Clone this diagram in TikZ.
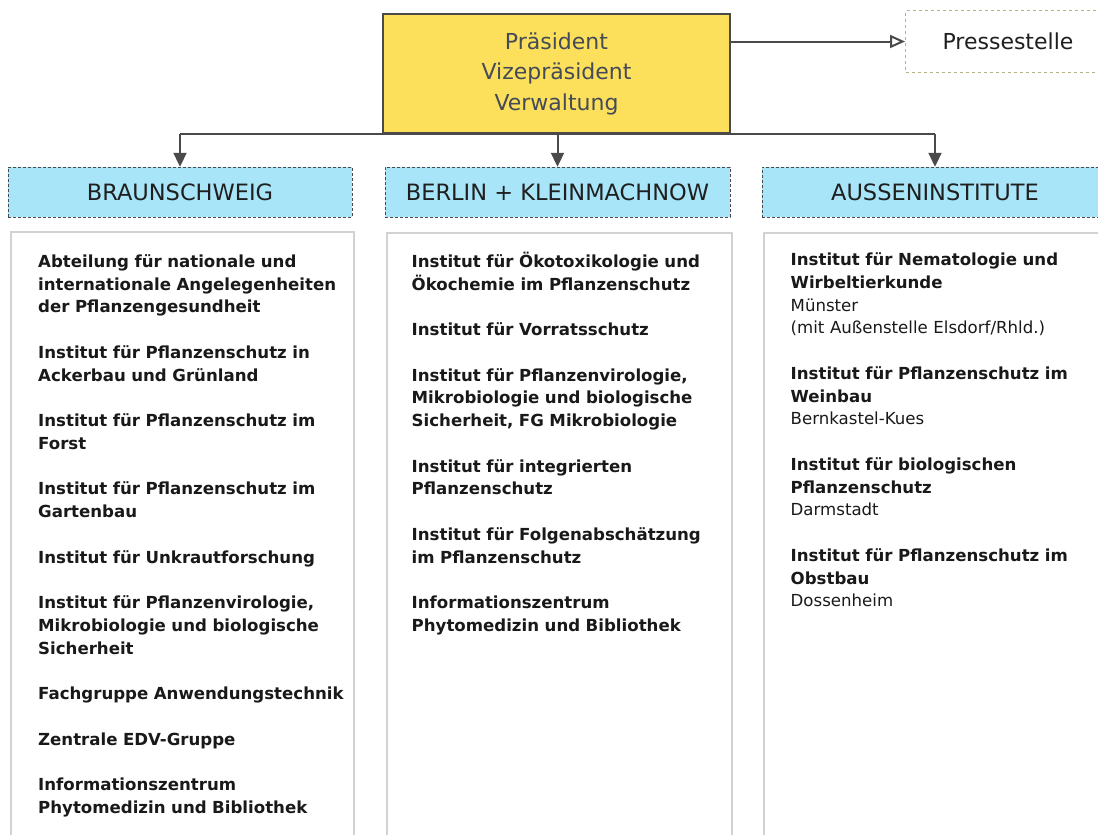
\documentclass[tikz,border=0pt]{standalone}
\usepackage{fontspec}
\setmainfont{DejaVu Sans}
\usepackage{tikz}
\usetikzlibrary{positioning,arrows.meta}
\definecolor{praesgelb}{HTML}{FCE05B}
\definecolor{kopfblau}{HTML}{A9E5F8}
\definecolor{linie}{HTML}{4A4A4A}
\definecolor{schrift}{HTML}{454A58}
\definecolor{rahmen}{HTML}{D2D2D2}
\definecolor{presserand}{HTML}{B5B283}
\newcommand{\leer}{\\[22.75pt]}
\tikzset{
        >={Triangle[length=14pt,width=13pt]}, % filled heads for the down arrows
        verbindung/.style={line width=2pt, draw=linie}, % dark connectors
        kopf/.style={fill=kopfblau, draw=linie, densely dashed, thin, minimum height=50pt,
                font=\fontsize{22.5}{27}\selectfont, text=black!88}, % blue column headers
        spalte/.style={draw=rahmen, line width=1.5pt, fill=white, anchor=north west,
                minimum height=620pt}, % white column boxes
        eintrag/.style={anchor=base west, inner sep=0pt, text width=318pt, align=left,
                font=\fontsize{16.6}{22.75}\selectfont\bfseries, text=black!90}, % institute lists
}

\begin{document}
\begin{tikzpicture}[x=1pt,y=-1pt]
\useasboundingbox (0,0) rectangle (1098,835);

% Leitung und Pressestelle
\node[fill=praesgelb, draw=linie, line width=1.5pt, minimum width=347pt, minimum height=119pt,
      align=center, text=schrift, font=\fontsize{22}{30.5}\selectfont]
      (praes) at (556.5,73.5) {Präsident\\Vizepräsident\\Verwaltung};
\node[draw=presserand, dashed, line width=1pt, fill=white, anchor=north west, minimum width=205pt,
      minimum height=62pt, font=\fontsize{22}{26}\selectfont, text=black!88]
      (presse) at (905,10) {Pressestelle};
\draw[verbindung, -{Triangle[open,length=15pt,width=13pt]}] (praes.east |- presse.west) -- (presse.west);

% Spalten
\node[spalte, minimum width=343pt] (spalteBS) at (10,231) {};
\node[spalte, minimum width=345pt] (spalteBK) at (386,232) {};
\node[spalte, minimum width=346pt] (spalteAI) at (763,232) {};

\node[kopf, minimum width=344pt] (kopfBS) at (180,192) {BRAUNSCHWEIG};
\node[kopf, minimum width=345pt] (kopfBK) at (557.5,192) {BERLIN + KLEINMACHNOW};
\node[kopf, minimum width=346pt] (kopfAI) at (935,192) {AUSSENINSTITUTE};

% Verbindungen
\draw[verbindung] (kopfBS.north |- praes.south) -- (kopfAI.north |- praes.south);
\foreach \k in {kopfBS,kopfBK,kopfAI}
  \draw[verbindung, ->] (\k.north |- praes.south) -- (\k.north);

% Institute
\node[eintrag] (listeBS) at (38,267.3) {Abteilung für nationale und\\internationale Angelegenheiten\\der Pflanzengesundheit\leer
  Institut für Pflanzenschutz in\\Ackerbau und Grünland\leer
  Institut für Pflanzenschutz im\\Forst\leer
  Institut für Pflanzenschutz im\\Gartenbau\leer
  Institut für Unkrautforschung\leer
  Institut für Pflanzenvirologie,\\Mikrobiologie und biologische\\Sicherheit\leer
  Fachgruppe Anwendungstechnik\leer
  Zentrale EDV-Gruppe\leer
  Informationszentrum\\Phytomedizin und Bibliothek};
\node[eintrag] (listeBK) at (411.5,267.3) {Institut für Ökotoxikologie und\\Ökochemie im Pflanzenschutz\leer
  Institut für Vorratsschutz\leer
  Institut für Pflanzenvirologie,\\Mikrobiologie und biologische\\Sicherheit, FG Mikrobiologie\leer
  Institut für integrierten\\Pflanzenschutz\leer
  Institut für Folgenabschätzung\\im Pflanzenschutz\leer
  Informationszentrum\\Phytomedizin und Bibliothek};
\node[eintrag] (listeAI) at (790.5,265.5) {Institut für Nematologie und\\Wirbeltierkunde\\
  {\mdseries Münster}\\{\mdseries (mit Außenstelle Elsdorf/Rhld.)}\leer
  Institut für Pflanzenschutz im\\Weinbau\\{\mdseries Bernkastel-Kues}\leer
  Institut für biologischen\\Pflanzenschutz\\{\mdseries Darmstadt}\leer
  Institut für Pflanzenschutz im\\Obstbau\\{\mdseries Dossenheim}};
\end{tikzpicture}
\end{document}
